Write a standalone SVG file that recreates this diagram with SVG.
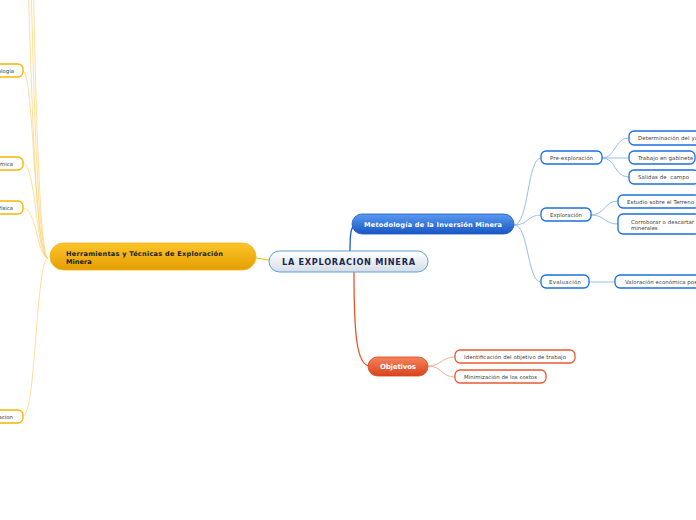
<svg xmlns="http://www.w3.org/2000/svg" width="696" height="520" viewBox="0 0 696 520">
<defs>
<linearGradient id="gC" x1="0" y1="0" x2="0" y2="1"><stop offset="0" stop-color="#ffffff"/><stop offset="1" stop-color="#d5dde6"/></linearGradient>
<linearGradient id="gY" x1="0" y1="0" x2="0" y2="1"><stop offset="0" stop-color="#fbc52a"/><stop offset="1" stop-color="#e49e00"/></linearGradient>
<linearGradient id="gB" x1="0" y1="0" x2="0" y2="1"><stop offset="0" stop-color="#5a9af0"/><stop offset="1" stop-color="#1856c4"/></linearGradient>
<linearGradient id="gR" x1="0" y1="0" x2="0" y2="1"><stop offset="0" stop-color="#f5845c"/><stop offset="1" stop-color="#d8431c"/></linearGradient>
</defs>
<style>
text{font-family:"DejaVu Sans","Liberation Sans",sans-serif;white-space:pre}
.s{font-size:5.4px;fill:#3a3a3a}
.sb{fill:#fff;stroke:#1c6fe0;stroke-width:1.3}
.sy{fill:#fff;stroke:#f6b400;stroke-width:1.3}
.sr{fill:#fff;stroke:#ea5a35;stroke-width:1.3}
.cy{fill:none;stroke:#fcd680;stroke-width:0.8}
.cb{fill:none;stroke:#8db6ea;stroke-width:0.9}
.cr{fill:none;stroke:#f6a58c;stroke-width:0.9}
</style>
<rect width="696" height="520" fill="#fff"/>
<g id="connectors">
<path class="cy" d="M48,258 C31,258 30,-60 25,-60"/>
<path class="cy" d="M48,258 C32,258 31,-150 26,-150"/>
<path class="cy" d="M48,258 C33,258 32,-250 27,-250"/>
<path class="cy" d="M48,258 C34,258 34,71 23,71"/>
<path class="cy" d="M48,258 C36,258 36,163 23,163"/>
<path class="cy" d="M48,258 C37,258 37,208 23,208"/>
<path class="cy" d="M48,258 C36,258 36,416 23,416"/>
<path d="M256,258 L269,260" fill="none" stroke="#f5b800" stroke-width="1"/>
<path d="M350,252 C350,236 350,224 358,224" fill="none" stroke="#1a5cc8" stroke-width="1.3"/>
<path d="M354,272 C354,330 356,366 370,366" fill="none" stroke="#e8552a" stroke-width="1.3"/>
<path class="cb" d="M514,225 C529,225 527,158 541,158"/>
<path class="cb" d="M514,225 C529,225 527,215 541,215"/>
<path class="cb" d="M514,225 C529,225 527,282 541,282"/>
<path class="cb" d="M602,158 C616,158 614,138 629,138"/>
<path class="cb" d="M602,158 L629,158"/>
<path class="cb" d="M602,158 C616,158 614,177 629,177"/>
<path class="cb" d="M591,215 C605,215 604,201 618,201"/>
<path class="cb" d="M591,215 C605,215 604,224 618,224"/>
<path class="cb" d="M589,282 L615,282"/>
<path class="cr" d="M428,366 C442,366 441,357 455,357"/>
<path class="cr" d="M428,366 C442,366 441,377 455,377"/>
</g>
<g id="central">
<rect x="269" y="251" width="159" height="21" rx="10.5" fill="url(#gC)" stroke="#5a9fd8" stroke-width="1"/>
<text x="348.5" y="265" text-anchor="middle" font-size="8.2" font-weight="bold" fill="#1a2a50" textLength="133" lengthAdjust="spacing">LA EXPLORACION MINERA</text>
</g>
<g id="herramientas">
<rect x="50" y="243" width="206" height="27" rx="13.5" fill="url(#gY)" stroke="#f2b31a" stroke-width="0.8"/>
<text x="66" y="256" font-size="6.6" font-weight="bold" fill="#222" textLength="157" lengthAdjust="spacing">Herramientas y Técnicas de Exploración</text>
<text x="66" y="264" font-size="6.6" font-weight="bold" fill="#222">Minera</text>
</g>
<g id="metodologia">
<rect x="352" y="214" width="162" height="20" rx="10" fill="url(#gB)" stroke="#1a5cc8" stroke-width="0.8"/>
<text x="433" y="226.5" text-anchor="middle" font-size="6.6" font-weight="bold" fill="#fff" textLength="138" lengthAdjust="spacing">Metodología de la Inversión Minera</text>
</g>
<g id="objetivos">
<rect x="368" y="357" width="60" height="19" rx="9.5" fill="url(#gR)" stroke="#d8431c" stroke-width="0.8"/>
<text x="398" y="369" text-anchor="middle" font-size="7" font-weight="bold" fill="#fff" textLength="36" lengthAdjust="spacing">Objetivos</text>
</g>
<g id="geologia"><rect x="-40" y="64" width="63" height="13" rx="5" class="sy"/><text class="s" x="14" y="72.5" text-anchor="end">ología</text></g>
<g id="geoquimica"><rect x="-40" y="157" width="63" height="13" rx="5" class="sy"/><text class="s" x="13" y="165.5" text-anchor="end">ímica</text></g>
<g id="geofisica"><rect x="-40" y="201" width="63" height="13" rx="5" class="sy"/><text class="s" x="13" y="209.5" text-anchor="end">física</text></g>
<g id="acion"><rect x="-40" y="410" width="63" height="13" rx="5" class="sy"/><text class="s" x="13" y="418.5" text-anchor="end">acion</text></g>
<g id="preexploracion"><rect x="541" y="151" width="61" height="13" rx="5" class="sb"/><text class="s" x="571.5" y="159.8" text-anchor="middle" textLength="43" lengthAdjust="spacing">Pre-exploración</text></g>
<g id="determinacion"><rect x="629" y="131" width="90" height="14" rx="5" class="sb"/><text class="s" x="638" y="140" textLength="60" lengthAdjust="spacing">Determinación del ya</text></g>
<g id="trabajo"><rect x="629" y="151" width="66" height="13" rx="5" class="sb"/><text class="s" x="638" y="159.8" textLength="55" lengthAdjust="spacing">Trabajo en gabinete</text></g>
<g id="salidas"><rect x="629" y="170" width="70" height="14" rx="5" class="sb"/><text class="s" x="638" y="179" textLength="51" lengthAdjust="spacing">Salidas de  campo</text></g>
<g id="exploracion"><rect x="541" y="208" width="50" height="13" rx="5" class="sb"/><text class="s" x="566" y="216.8" text-anchor="middle" textLength="32" lengthAdjust="spacing">Exploración</text></g>
<g id="estudio"><rect x="618" y="195" width="82" height="13" rx="5" class="sb"/><text class="s" x="627" y="203.8" textLength="67" lengthAdjust="spacing">Estudio sobre el Terreno</text></g>
<g id="corroborar"><rect x="618" y="214" width="82" height="20" rx="5" class="sb"/><text class="s" x="631" y="223.5" textLength="63" lengthAdjust="spacing">Corroborar o descartar</text><text class="s" x="631" y="230">minerales</text></g>
<g id="evaluacion"><rect x="541" y="275" width="48" height="13" rx="5" class="sb"/><text class="s" x="565" y="283.8" text-anchor="middle" textLength="32" lengthAdjust="spacing">Evaluación</text></g>
<g id="valoracion"><rect x="615" y="275" width="95" height="13" rx="5" class="sb"/><text class="s" x="625" y="283.8" textLength="72" lengthAdjust="spacing">Valoración económica pos</text></g>
<g id="identificacion"><rect x="455" y="350" width="120" height="13" rx="5" class="sr"/><text class="s" x="464" y="358.8" textLength="102" lengthAdjust="spacing">Identificación del objetivo de trabajo</text></g>
<g id="minimizacion"><rect x="455" y="370" width="91" height="13" rx="5" class="sr"/><text class="s" x="464" y="378.8" textLength="73" lengthAdjust="spacing">Minimización de los costos</text></g>
</svg>
